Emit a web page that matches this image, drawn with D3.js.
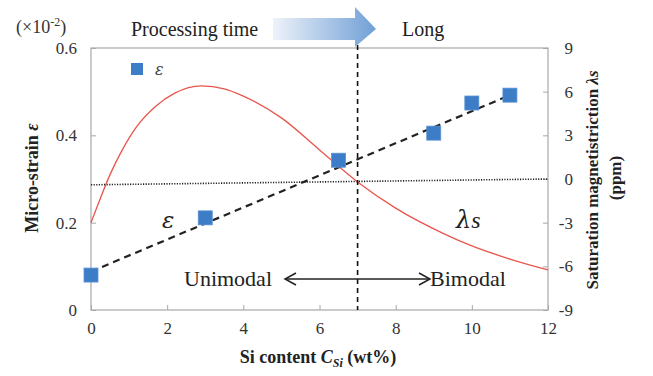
<!DOCTYPE html>
<html>
<head>
<meta charset="utf-8">
<script src="https://cdn.jsdelivr.net/npm/d3@7"></script>
<style>
  html, body { margin: 0; padding: 0; background: #fff; }
  svg { display: block; }
  svg text { font-family: "Liberation Serif", "DejaVu Serif", "Times New Roman", serif; }
</style>
</head>
<body>
<svg id="chart" width="653" height="376"></svg>
<script>
// Si content (wt%) and measured micro-strain (x10^-2)
const siContent = [0, 3, 6.5, 9, 10, 11];
const microStrain = [0.08, 0.211, 0.343, 0.405, 0.474, 0.492];

// Linear trend of micro-strain vs Si content
const strainTrend = [[0, 0.088], [11, 0.492]];

// Saturation magnetostriction curve (ppm) vs Si content
const lambdaSi = [0, 0.25, 0.5, 0.8, 1.2, 1.7, 2.2, 2.9, 3.5, 4, 5, 6, 7, 8, 9.3, 10, 11, 12];
const lambdaPpm = [-3.0, -1.3, 0.3, 1.9, 3.6, 5.0, 5.9, 6.4, 6.2, 5.7, 4.2, 2.0, -0.2, -2.0, -3.8, -4.6, -5.5, -6.25];

// Zero reference line for magnetostriction
const zeroLine = [[0, -0.4], [12, 0]];

// Unimodal / bimodal boundary
const boundarySi = 7;

// Tick labels
const xTicks = [0, 2, 4, 6, 8, 10, 12];
const yLeftTicks = [0, 0.2, 0.4, 0.6];
const yRightTicks = [-9, -6, -3, 0, 3, 6, 9];

const svg = d3.select("#chart");
const L = 91, R = 548, T = 48, B = 310;
const serif = "'Liberation Serif', 'DejaVu Serif', 'Times New Roman', serif";
const greek = "'DejaVu Serif', serif";

const x = d3.scaleLinear().domain([0, 12]).range([L, R]);
const yL = d3.scaleLinear().domain([0, 0.6]).range([B, T]);
const yR = d3.scaleLinear().domain([-9, 9]).range([B, T]);

const axisColor = "#a8a8a8";
const labelColor = "#333";

// Axes with inward ticks
const gx = svg.append("g").attr("transform", `translate(0,${B})`)
  .call(d3.axisBottom(x).tickValues(xTicks).tickSizeInner(-5).tickSizeOuter(0).tickPadding(12)
    .tickFormat(d => String(d)));
const gl = svg.append("g").attr("transform", `translate(${L},0)`)
  .call(d3.axisLeft(yL).tickValues(yLeftTicks).tickSizeInner(-5).tickSizeOuter(0).tickPadding(14)
    .tickFormat(d => d === 0 ? "0" : d.toFixed(1)));
const gr = svg.append("g").attr("transform", `translate(${R},0)`)
  .call(d3.axisRight(yR).tickValues(yRightTicks).tickSizeInner(-5).tickSizeOuter(0).tickPadding(25)
    .tickFormat(d => String(d)));
gr.selectAll(".tick text").attr("text-anchor", "end");

[gx, gl, gr].forEach(g => {
  g.attr("font-family", serif).attr("font-size", 17);
  g.select(".domain").remove();
  g.selectAll(".tick line").attr("stroke", axisColor);
  g.selectAll(".tick text").attr("fill", labelColor);
});
gx.selectAll(".tick text").attr("dy", "0.71em");

// Plot frame
svg.append("rect").attr("x", L).attr("y", T).attr("width", R - L).attr("height", B - T)
  .attr("fill", "none").attr("stroke", axisColor).attr("stroke-width", 1.2);

// Zero reference (dotted)
svg.append("line")
  .attr("x1", x(zeroLine[0][0])).attr("y1", yR(zeroLine[0][1]))
  .attr("x2", x(zeroLine[1][0])).attr("y2", yR(zeroLine[1][1]))
  .attr("stroke", "#222").attr("stroke-width", 1.6).attr("stroke-dasharray", "1.2,1.4");

// Magnetostriction curve
const pts = lambdaSi.map((s, i) => [s, lambdaPpm[i]]);
svg.append("path").datum(pts)
  .attr("d", d3.line().x(d => x(d[0])).y(d => yR(d[1])).curve(d3.curveMonotoneX))
  .attr("fill", "none").attr("stroke", "#e8554d").attr("stroke-width", 1.3);

// Boundary line
svg.append("line").attr("x1", x(boundarySi)).attr("x2", x(boundarySi))
  .attr("y1", T - 3).attr("y2", B)
  .attr("stroke", "#111").attr("stroke-width", 1.6).attr("stroke-dasharray", "5,4");

// Strain trend (dashed)
svg.append("line")
  .attr("x1", x(strainTrend[0][0])).attr("y1", yL(strainTrend[0][1]))
  .attr("x2", x(strainTrend[1][0])).attr("y2", yL(strainTrend[1][1]))
  .attr("stroke", "#222").attr("stroke-width", 2.2).attr("stroke-dasharray", "7,5");

// Micro-strain markers
const sq = 14;
svg.append("g").selectAll("rect").data(siContent).join("rect")
  .attr("x", (d) => x(d) - sq / 2)
  .attr("y", (d, i) => yL(microStrain[i]) - sq / 2)
  .attr("width", sq).attr("height", sq)
  .attr("fill", "#3d7cc6").attr("stroke", "#5a92d4").attr("stroke-width", 0.8);

// Legend
svg.append("rect").attr("x", 131).attr("y", 63).attr("width", 12).attr("height", 12).attr("fill", "#3d7cc6");
svg.append("text").attr("x", 155).attr("y", 75).attr("font-style", "italic").attr("font-size", 16)
  .attr("fill", "#444").style("font-family", greek).text("ε");

// In-plot labels
svg.append("text").attr("x", 162).attr("y", 228).attr("font-style", "italic").attr("font-size", 23)
  .attr("fill", "#222").style("font-family", greek).text("ε");
svg.append("text").attr("x", 456).attr("y", 228).attr("font-style", "italic").attr("font-size", 24)
  .attr("fill", "#222").html('<tspan style="font-family:' + greek.replace(/'/g, "") + '">λ</tspan>s');

svg.append("text").attr("x", 184).attr("y", 286).attr("font-size", 22).attr("fill", "#222").text("Unimodal");
svg.append("text").attr("x", 430).attr("y", 286).attr("font-size", 22).attr("fill", "#222").text("Bimodal");
// Double-headed arrow
const ay = 279;
svg.append("line").attr("x1", 286).attr("x2", 429).attr("y1", ay).attr("y2", ay)
  .attr("stroke", "#222").attr("stroke-width", 1.5);
svg.append("path").attr("d", `M296,${ay - 6} L285,${ay} L296,${ay + 6}`)
  .attr("fill", "none").attr("stroke", "#222").attr("stroke-width", 1.5);
svg.append("path").attr("d", `M419,${ay - 6} L430,${ay} L419,${ay + 6}`)
  .attr("fill", "none").attr("stroke", "#222").attr("stroke-width", 1.5);

// Processing-time arrow
const defs = svg.append("defs");
const grad = defs.append("linearGradient").attr("id", "ptGrad").attr("x1", "0%").attr("x2", "100%");
grad.append("stop").attr("offset", "0%").attr("stop-color", "#eef3fa");
grad.append("stop").attr("offset", "100%").attr("stop-color", "#6f9fd6");
svg.append("path")
  .attr("d", "M273,18 L355,18 L355,7 L376,29 L355,47 L355,40 L273,40 Z")
  .attr("fill", "url(#ptGrad)");
svg.append("text").attr("x", 131).attr("y", 36).attr("font-size", 20).attr("fill", "#222").text("Processing time");
svg.append("text").attr("x", 402).attr("y", 36).attr("font-size", 20).attr("fill", "#222").text("Long");

// Scale factor note
const sf = svg.append("text").attr("x", 16).attr("y", 33).attr("font-size", 18).attr("fill", "#333");
sf.append("tspan").text("(×10");
sf.append("tspan").attr("dy", -7).attr("font-size", 12).text("-2");
sf.append("tspan").attr("dy", 7).text(")");

// Axis titles
svg.append("text").attr("transform", "translate(38,178) rotate(-90)").attr("text-anchor", "middle")
  .attr("font-size", 18).attr("font-weight", "bold").attr("fill", "#222")
  .html('Micro-strain <tspan font-style="italic">ε</tspan>');
svg.append("text").attr("transform", "translate(598,180) rotate(-90)").attr("text-anchor", "middle")
  .attr("font-size", 17).attr("font-weight", "bold").attr("fill", "#222")
  .html('Saturation magnetistriction <tspan font-style="italic">λs</tspan>');
svg.append("text").attr("transform", "translate(621,178) rotate(-90)").attr("text-anchor", "middle")
  .attr("font-size", 17).attr("font-weight", "bold").attr("fill", "#222").text("(ppm)");
svg.append("text").attr("x", 318).attr("y", 363).attr("text-anchor", "middle")
  .attr("font-size", 18).attr("font-weight", "bold").attr("fill", "#222")
  .html('Si content <tspan font-style="italic">C</tspan><tspan font-style="italic" font-size="12" dy="4">Si</tspan><tspan dy="-4"> (wt%)</tspan>');
</script>
</body>
</html>
